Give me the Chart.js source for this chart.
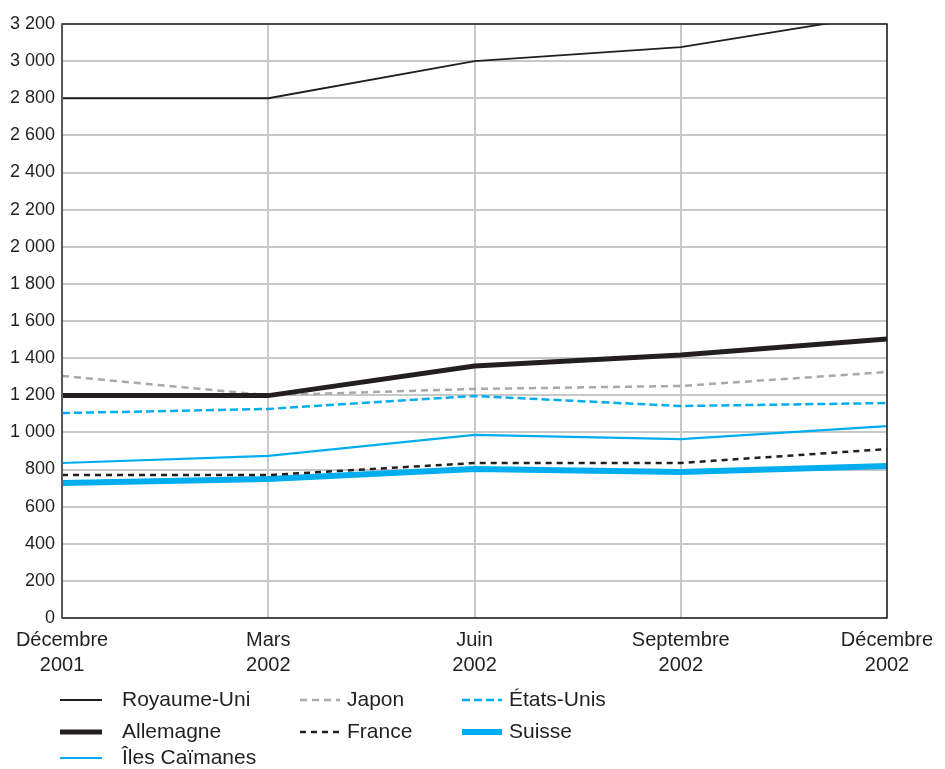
<!DOCTYPE html>
<html>
<head>
<meta charset="utf-8">
<script src="https://cdn.jsdelivr.net/npm/chart.js@4"></script>
<style>
  html, body { margin: 0; padding: 0; background: #fff; }
  #wrap { width: 945px; height: 769px; }
</style>
</head>
<body>
<div id="wrap"><canvas id="chart"></canvas></div>
<script>
// periods on the x axis (two-line labels)
const periods = [["Décembre", "2001"], ["Mars", "2002"], ["Juin", "2002"], ["Septembre", "2002"], ["Décembre", "2002"]];
const yTicks = [0, 200, 400, 600, 800, 1000, 1200, 1400, 1600, 1800, 2000, 2200, 2400, 2600, 2800, 3000, 3200];

const royaumeUni = [2800, 2800, 3000, 3075, 3255];
const allemagne = [1198, 1198, 1357, 1417, 1503];
const japon = [1304, 1200, 1234, 1250, 1325];
const etatsUnis = [1104, 1126, 1196, 1142, 1158];
const caimanes = [835, 873, 986, 964, 1034];
const france = [770, 770, 835, 835, 910];
const suisse = [727, 749, 803, 786, 819];

const FONT = "'Liberation Sans', Arial, Helvetica, sans-serif";
const DARK = '#231f20';
const BLUE = '#00aeef';
const GREY = '#a7a9ac';

const datasets = [
  { label: 'Royaume-Uni', data: royaumeUni, borderColor: DARK, borderWidth: 1.8 },
  { label: 'Allemagne', data: allemagne, borderColor: DARK, borderWidth: 5 },
  { label: 'Îles Caïmanes', data: caimanes, borderColor: BLUE, borderWidth: 2.2 },
  { label: 'Japon', data: japon, borderColor: GREY, borderWidth: 2.5, borderDash: [7, 5] },
  { label: 'France', data: france, borderColor: DARK, borderWidth: 2.5, borderDash: [6, 5] },
  { label: 'États-Unis', data: etatsUnis, borderColor: BLUE, borderWidth: 2.5, borderDash: [8, 4] },
  { label: 'Suisse', data: suisse, borderColor: BLUE, borderWidth: 6 }
].map(d => Object.assign({ pointRadius: 0, fill: false, tension: 0 }, d));

// legend is laid out in columns, drawn below the axis
const legendSlots = [
  [60, 700], [60, 732], [60, 758],
  [300, 700], [300, 732],
  [462, 700], [462, 732]
];
const legendPlugin = {
  id: 'colLegend',
  afterDraw(chart) {
    const ctx = chart.ctx;
    ctx.save();
    chart.data.datasets.forEach((ds, i) => {
      const [x, y] = legendSlots[i];
      const isCol1 = x < 200;
      const lineLen = isCol1 ? 42 : 40;
      ctx.strokeStyle = ds.borderColor;
      ctx.lineWidth = ds.borderWidth;
      ctx.setLineDash(ds.borderDash || []);
      ctx.beginPath();
      ctx.moveTo(x, y);
      ctx.lineTo(x + lineLen, y);
      ctx.stroke();
      ctx.setLineDash([]);
      ctx.fillStyle = DARK;
      ctx.font = '21px ' + FONT;
      ctx.textBaseline = 'middle';
      ctx.textAlign = 'left';
      ctx.fillText(ds.label, isCol1 ? x + 62 : x + 47, y);
    });
    ctx.restore();
  }
};

const framePlugin = {
  id: 'frame',
  afterDatasetsDraw(chart) {
    const a = chart.chartArea;
    const ctx = chart.ctx;
    ctx.save();
    ctx.strokeStyle = DARK;
    ctx.lineWidth = 1.5;
    ctx.strokeRect(a.left, a.top, a.right - a.left, a.bottom - a.top);
    ctx.strokeStyle = '#58595b';
    ctx.lineWidth = 2;
    ctx.beginPath();
    ctx.moveTo(a.left, a.top);
    ctx.lineTo(a.left, a.bottom);
    ctx.stroke();
    ctx.restore();
  }
};

new Chart(document.getElementById('chart'), {
  type: 'line',
  data: { labels: periods, datasets: datasets },
  options: {
    responsive: true,
    maintainAspectRatio: false,
    animation: false,
    layout: { padding: { top: 24, right: 58, left: 3, bottom: 81 } },
    plugins: { legend: { display: false }, tooltip: { enabled: false } },
    scales: {
      x: {
        offset: false,
        grid: { color: '#c8c8c8', lineWidth: 2, drawTicks: false },
        border: { display: false },
        ticks: { color: DARK, font: { family: FONT, size: 20, lineHeight: 1.25 }, padding: 10, maxRotation: 0, autoSkip: false }
      },
      y: {
        min: 0,
        max: 3200,
        afterBuildTicks(axis) { axis.ticks = yTicks.map(v => ({ value: v })); },
        grid: { color: '#c8c8c8', lineWidth: 2, drawTicks: false },
        border: { display: false },
        ticks: {
          color: DARK,
          font: { family: FONT, size: 18 },
          padding: 7,
          callback: v => String(v).replace(/\B(?=(\d{3})+(?!\d))/g, ' ')
        }
      }
    }
  },
  plugins: [framePlugin, legendPlugin]
});
</script>
</body>
</html>
